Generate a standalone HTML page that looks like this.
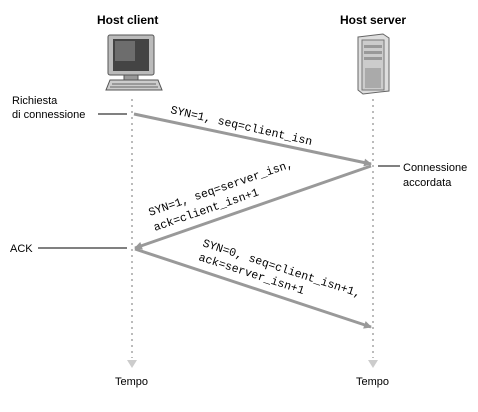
<!DOCTYPE html>
<html><head><meta charset="utf-8"><style>
html,body{margin:0;padding:0;background:#fff;}
svg{display:block;}
.s{font-family:"Liberation Sans",sans-serif;font-size:11px;fill:#000;}
.b{font-family:"Liberation Sans",sans-serif;font-size:12px;font-weight:bold;fill:#000;}
.m{font-family:"Liberation Mono",monospace;font-size:11.5px;fill:#000;}
</style></head><body>
<svg width="478" height="412" viewBox="0 0 478 412">
<defs>
<marker id="ah" markerWidth="8" markerHeight="8" refX="7" refY="4" orient="auto" markerUnits="userSpaceOnUse">
<path d="M0,0 L8,4 L0,8 z" fill="#999"/></marker>
</defs>
<text class="b" x="97" y="24">Host client</text>
<text class="b" x="340" y="24">Host server</text>
<!-- computer -->
<g>
<rect x="108" y="35" width="46" height="40" rx="2" fill="#bbb" stroke="#555"/>
<rect x="113" y="39" width="36" height="32" fill="#444"/>
<rect x="115" y="41" width="20" height="20" fill="#888" opacity="0.6"/>
<rect x="124" y="75" width="14" height="6" fill="#999" stroke="#555"/>
<path d="M110,80 L158,80 L162,90 L106,90 Z" fill="#ccc" stroke="#555"/>
<line x1="112" y1="84" x2="156" y2="84" stroke="#666"/>
<line x1="110" y1="87" x2="158" y2="87" stroke="#666"/>
</g>
<!-- server -->
<g>
<path d="M358,37 L383,34 L389,38 L389,91 L363,94 L358,90 Z" fill="#ddd" stroke="#666"/>
<rect x="362" y="40" width="22" height="50" fill="#ccc" stroke="#777"/>
<rect x="364" y="45" width="18" height="3" fill="#999"/>
<rect x="364" y="51" width="18" height="3" fill="#999"/>
<rect x="364" y="57" width="18" height="3" fill="#999"/>
<rect x="365" y="68" width="16" height="20" fill="#aaa"/>
</g>
<!-- timelines -->
<line x1="132" y1="99" x2="132" y2="358" stroke="#bbb" stroke-width="2" stroke-dasharray="2,4"/>
<line x1="373" y1="99" x2="373" y2="358" stroke="#bbb" stroke-width="2" stroke-dasharray="2,4"/>
<path d="M127,360 L137,360 L132,368 Z" fill="#ccc"/>
<path d="M368,360 L378,360 L373,368 Z" fill="#ccc"/>
<text class="s" x="115" y="385">Tempo</text>
<text class="s" x="356" y="385">Tempo</text>
<!-- side labels -->
<text class="s" x="12" y="104">Richiesta</text>
<text class="s" x="12" y="118">di connessione</text>
<line x1="98" y1="114" x2="127" y2="114" stroke="#000"/>
<text class="s" x="403" y="171">Connessione</text>
<text class="s" x="403" y="186">accordata</text>
<line x1="378" y1="166" x2="400" y2="166" stroke="#000"/>
<text class="s" x="10" y="252">ACK</text>
<line x1="38" y1="248" x2="127" y2="248" stroke="#000"/>
<!-- arrows -->
<line x1="134" y1="114" x2="371" y2="164" stroke="#999" stroke-width="3" marker-end="url(#ah)"/>
<line x1="371" y1="166" x2="135" y2="248" stroke="#999" stroke-width="3" marker-end="url(#ah)"/>
<line x1="135" y1="249" x2="371" y2="327" stroke="#999" stroke-width="3" marker-end="url(#ah)"/>
<!-- arrow labels -->
<text class="m" transform="translate(170,113) rotate(12.8)">SYN=1, seq=client_isn</text>
<text class="m" transform="translate(150,216) rotate(-19)">SYN=1, seq=server_isn,</text>
<text class="m" transform="translate(155,231) rotate(-19)">ack=client_isn+1</text>
<text class="m" transform="translate(202,246) rotate(18)">SYN=0, seq=client_isn+1,</text>
<text class="m" transform="translate(198,260) rotate(18)">ack=server_isn+1</text>
</svg>
</body></html>
